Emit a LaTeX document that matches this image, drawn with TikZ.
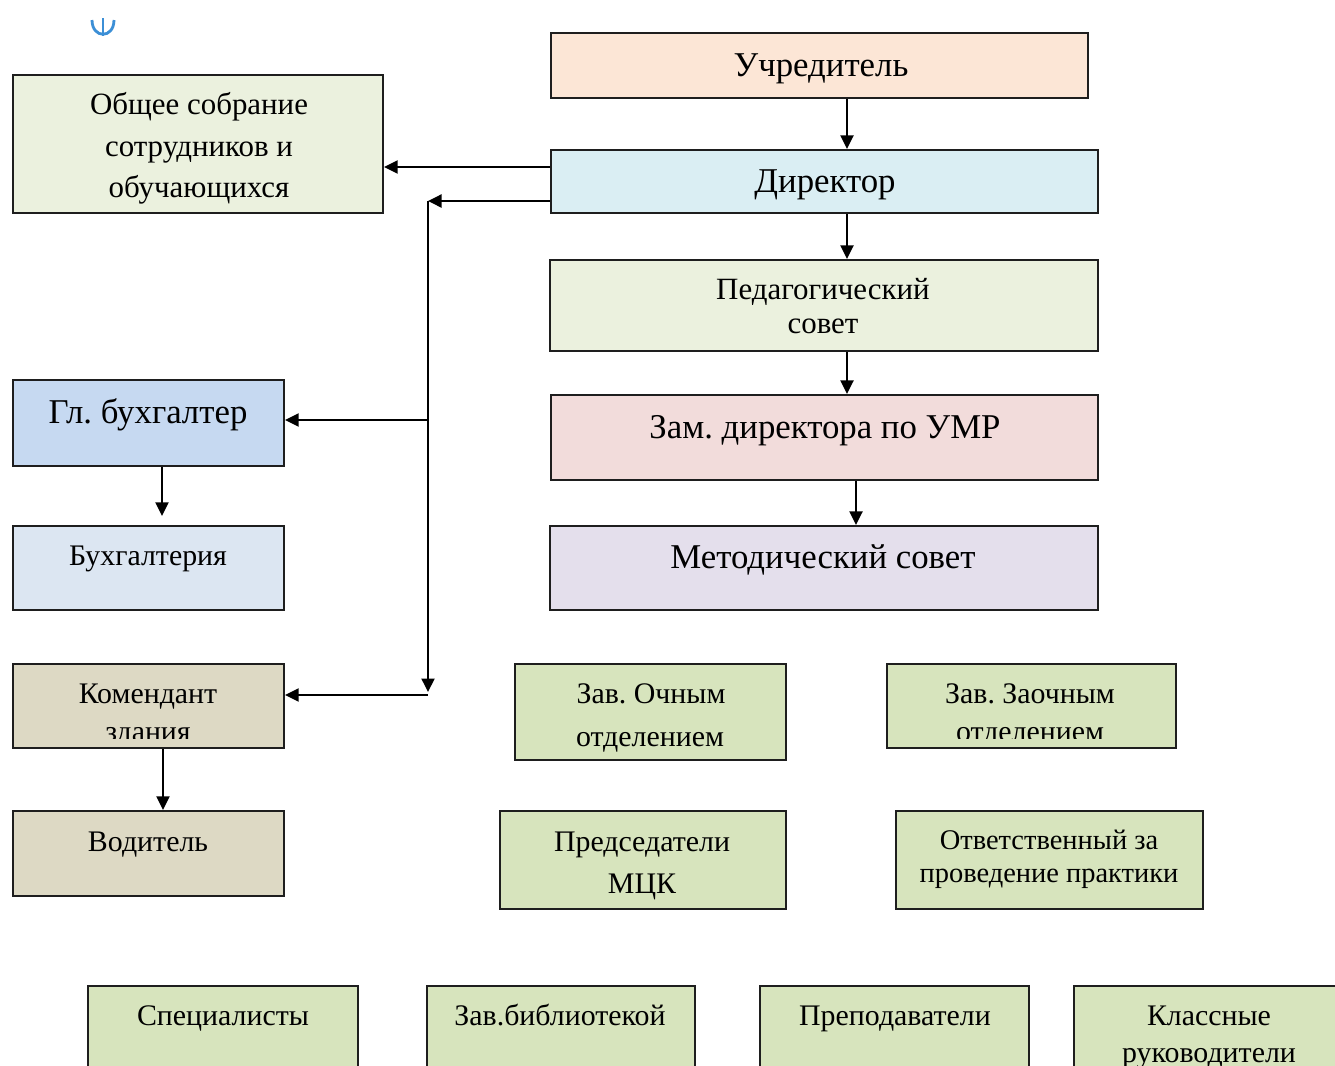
\documentclass[tikz,border=0pt]{standalone}
\usepackage{fontspec}
\setmainfont{Liberation Serif}
\usetikzlibrary{arrows.meta}
\definecolor{cPeach}{HTML}{FCE6D6}
\definecolor{cDir}{HTML}{DAEEF3}
\definecolor{cLgreen}{HTML}{EBF1DE}
\definecolor{cZam}{HTML}{F2DCDB}
\definecolor{cMet}{HTML}{E4DFEC}
\definecolor{cGb}{HTML}{C6D9F1}
\definecolor{cBux}{HTML}{DCE6F2}
\definecolor{cKom}{HTML}{DDD9C4}
\definecolor{cGreen}{HTML}{D7E4BD}
\definecolor{cLine}{HTML}{1E1E1E}
\definecolor{cAnchor}{HTML}{3C8FD6}
\tikzset{
  box/.style={draw=cLine, line width=1.2pt, inner sep=0pt, rectangle},
  lbl/.style={anchor=base, inner sep=0pt, text=black},
  conn/.style={draw=black, line width=1.1pt, -{Triangle[length=0.27cm,width=0.26cm]}},
  fBig/.style={font=\fontsize{19.8}{24}\selectfont},
  fMid/.style={font=\fontsize{17.6}{21}\selectfont},
  fNor/.style={font=\fontsize{17}{20}\selectfont},
  fSm/.style={font=\fontsize{16.2}{19}\selectfont},
}
\newcommand{\Bx}[6]{\node[box, fill=#6, minimum width={(#4-#2)*0.02cm}, minimum height={(#5-#3)*0.02cm}] (#1) at ({(#2+#4)/2},{(#3+#5)/2}) {};}
\frenchspacing
\begin{document}
\begin{tikzpicture}[x=0.02cm, y=-0.02cm]
\useasboundingbox (0,0) rectangle (1335,1065);
\clip (0,0) rectangle (1335,1065);
% anchor mark
\draw[cAnchor, line width=1.6pt] (92,20) .. controls (92,39) and (114,39) .. (114,20);
\draw[cAnchor, line width=1.6pt] (103,18) -- (103,36);
% boxes
\Bx{uch}{551}{33}{1088}{98}{cPeach}
\Bx{dir}{551}{150}{1098}{213}{cDir}
\Bx{ob}{13}{75}{383}{213}{cLgreen}
\Bx{ped}{550}{260}{1098}{351}{cLgreen}
\Bx{zam}{551}{395}{1098}{480}{cZam}
\Bx{met}{550}{526}{1098}{610}{cMet}
\Bx{gb}{13}{380}{284}{466}{cGb}
\Bx{bux}{13}{526}{284}{610}{cBux}
\Bx{kom}{13}{664}{284}{748}{cKom}
\Bx{vod}{13}{811}{284}{896}{cKom}
\Bx{och}{515}{664}{786}{760}{cGreen}
\Bx{zaoch}{887}{664}{1176}{748}{cGreen}
\Bx{mck}{500}{811}{786}{909}{cGreen}
\Bx{prak}{896}{811}{1203}{909}{cGreen}
\Bx{spec}{88}{986}{358}{1090}{cGreen}
\Bx{bibl}{427}{986}{695}{1090}{cGreen}
\Bx{prep}{760}{986}{1029}{1090}{cGreen}
\Bx{kls}{1074}{986}{1350}{1090}{cGreen}
% texts
\node[lbl,fBig] (tUch) at (821,76) {Учредитель};
\node[lbl,fBig] (tDir) at (825,192) {Директор};
\node[lbl,fMid] (tOb1) at (199,114) {Общее собрание};
\node[lbl,fMid] (tOb2) at (199,156) {сотрудников и};
\node[lbl,fMid] (tOb3) at (199,197) {обучающихся};
\node[lbl,fMid] (tPed1) at (823,299) {Педагогический};
\node[lbl,fMid] (tPed2) at (823,333) {совет};
\node[lbl,fBig] (tZam) at (825,438) {Зам. директора по УМР};
\node[lbl,fBig] (tMet) at (823,568) {Методический совет};
\node[lbl,fBig] (tGb) at (148,423) {Гл. бухгалтер};
\node[lbl,fNor] (tBux) at (148,565) {Бухгалтерия};
\node[lbl,fNor] (tKom1) at (148,703) {Комендант};
\begin{scope}
\clip (13,712) rectangle (284,738);
\node[lbl,fNor] (tKom2) at (148,741) {здания};
\end{scope}
\node[lbl,fNor] (tVod) at (148,851) {Водитель};
\node[lbl,fNor] (tOch1) at (651,703) {Зав. Очным};
\node[lbl,fNor] (tOch2) at (650,746) {отделением};
\node[lbl,fNor] (tZa1) at (1030,703) {Зав. Заочным};
\begin{scope}
\clip (887,712) rectangle (1176,738);
\node[lbl,fNor] (tZa2) at (1030,741) {отделением};
\end{scope}
\node[lbl,fNor] (tMck1) at (642,851) {Председатели};
\node[lbl,fNor] (tMck2) at (642,893) {МЦК};
\node[lbl,fSm] (tPr1) at (1049,849) {Ответственный за};
\node[lbl,fSm] (tPr2) at (1049,882) {проведение практики};
\node[lbl,fNor] (tSpec) at (223,1025) {Специалисты};
\node[lbl,fNor] (tBibl) at (560,1025) {Зав.библиотекой};
\node[lbl,fNor] (tPrep) at (895,1025) {Преподаватели};
\node[lbl,fNor] (tKls1) at (1209,1025) {Классные};
\node[lbl,fNor] (tKls2) at (1209,1062) {руководители};
% connector helpers
\coordinate (ax1) at (847,0);
\coordinate (ax2) at (856,0);
\coordinate (ax3) at (162,0);
\coordinate (ax4) at (163,0);
\coordinate (yOb) at (0,167);
\coordinate (tr1) at (428,201);
\coordinate (tr2) at (428,692);
\coordinate (tb) at (428,420);
\coordinate (tk) at (428,695);
% connectors
\draw[conn] (uch.south -| ax1) -- (dir.north -| ax1);
\draw[conn] (dir.west |- yOb) -- (ob.east |- yOb);
\draw[conn] (dir.west |- tr1) -- (tr1);
\draw[conn] (tr1) -- (tr2);
\draw[conn] (tb) -- (gb.east |- tb);
\draw[conn] (tk) -- (kom.east |- tk);
\draw[conn] (dir.south -| ax1) -- (ped.north -| ax1);
\draw[conn] (ped.south -| ax1) -- (zam.north -| ax1);
\draw[conn] (zam.south -| ax2) -- (met.north -| ax2);
\draw[conn, shorten >=0.18cm] (gb.south -| ax3) -- (bux.north -| ax3);
\draw[conn] (kom.south -| ax4) -- (vod.north -| ax4);
\end{tikzpicture}
\end{document}
